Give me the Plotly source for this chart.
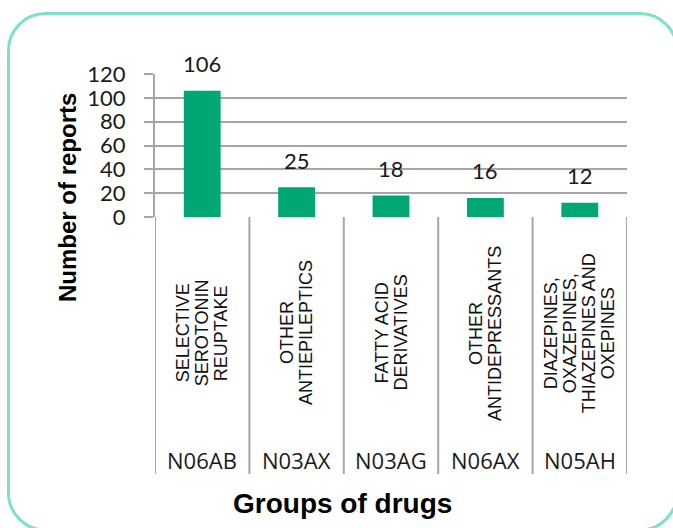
import plotly.graph_objects as go

codes = ["N06AB", "N03AX", "N03AG", "N06AX", "N05AH"]
groups = [
    ["SELECTIVE", "SEROTONIN", "REUPTAKE"],
    ["OTHER", "ANTIEPILEPTICS"],
    ["FATTY ACID", "DERIVATIVES"],
    ["OTHER", "ANTIDEPRESSANTS"],
    ["DIAZEPINES,", "OXAZEPINES,", "THIAZEPINES AND", "OXEPINES"],
]
reports = [106, 25, 18, 16, 12]
y_ticks = [0, 20, 40, 60, 80, 100, 120]

W, H = 673, 528
L, R, T, B = 155, 46, 74, 311
PW, PH = W - L - R, H - T - B
GRID = "#a6a6a6"
BAR = "#00a673"


def px(x):
    return (x - L) / PW


def py(y):
    return (H - B - y) / PH


xs = list(range(len(codes)))
fig = go.Figure(go.Bar(x=xs, y=reports, width=0.39, marker=dict(color=BAR, line=dict(width=0)),
                       hoverinfo="skip"))

C = dict(xanchor="center", yanchor="middle", showarrow=False)
annotations = []
for i, v in zip(xs, reports):
    annotations.append(dict(x=i, y=v, xref="x", yref="y", text=str(v), yshift=27,
                            font=dict(family="Lato", size=22, color="#1a1a1a"), **C))
for i, lines in zip(xs, groups):
    n = len(lines)
    for j, line in enumerate(lines):
        annotations.append(dict(x=i, y=py(333), xref="x", yref="paper", text=line,
                                textangle=-90, xshift=(j - (n - 1) / 2) * 19,
                                font=dict(family="Liberation Sans", size=18, color="#111"), **C))
for i, c in zip(xs, codes):
    annotations.append(dict(x=i, y=py(460), xref="x", yref="paper", text=c,
                            font=dict(family="Open Sans", size=22, color="#1a1a1a"), **C))
annotations.append(dict(x=px(67), y=py(198), xref="paper", yref="paper", text="<b>Number of reports</b>",
                        textangle=-90, font=dict(family="Liberation Sans", size=24, color="#000"), **C))
annotations.append(dict(x=px(342), y=py(503), xref="paper", yref="paper", text="<b>Groups of drugs</b>",
                        font=dict(family="Liberation Sans", size=28, color="#000"), **C))

shapes = []
for k in range(len(codes) + 1):
    shapes.append(dict(type="line", xref="x", yref="paper", x0=k - 0.5, x1=k - 0.5,
                       y0=0, y1=py(474), line=dict(color=GRID, width=2)))

# rounded border box
x0, y0, x1, y1, r = 8.5, 13.5, 677, 530, 37
k = 0.5523 * r


def P(x, y):
    return f"{px(x):.5f},{py(y):.5f}"


path = (
    f"M {P(x0 + r, y0)} L {P(x1 - r, y0)} "
    f"C {P(x1 - r + k, y0)} {P(x1, y0 + r - k)} {P(x1, y0 + r)} "
    f"L {P(x1, y1 - r)} "
    f"C {P(x1, y1 - r + k)} {P(x1 - r + k, y1)} {P(x1 - r, y1)} "
    f"L {P(x0 + r, y1)} "
    f"C {P(x0 + r - k, y1)} {P(x0, y1 - r + k)} {P(x0, y1 - r)} "
    f"L {P(x0, y0 + r)} "
    f"C {P(x0, y0 + r - k)} {P(x0 + r - k, y0)} {P(x0 + r, y0)} Z"
)
shapes.append(dict(type="path", xref="paper", yref="paper", path=path,
                   line=dict(color="#80dfcc", width=3), layer="below"))

fig.update_layout(
    width=W, height=H, margin=dict(l=L, r=R, t=T, b=B, pad=0),
    paper_bgcolor="white", plot_bgcolor="white", showlegend=False,
    annotations=annotations, shapes=shapes,
    xaxis=dict(range=[-0.5, len(codes) - 0.5], showticklabels=False, ticks="",
               showgrid=False, zeroline=False, showline=False, fixedrange=True),
    yaxis=dict(range=[0, 120], tickvals=y_ticks, ticktext=[str(t) for t in y_ticks],
               showgrid=True, gridcolor=GRID, gridwidth=2, zeroline=False,
               showline=True, linecolor=GRID, linewidth=2,
               ticks="outside", ticklen=9, tickwidth=2, tickcolor=GRID,
               ticklabelstandoff=14,
               tickfont=dict(family="Lato", size=22, color="#1a1a1a"), fixedrange=True),
)

fig.write_html("out.html")
